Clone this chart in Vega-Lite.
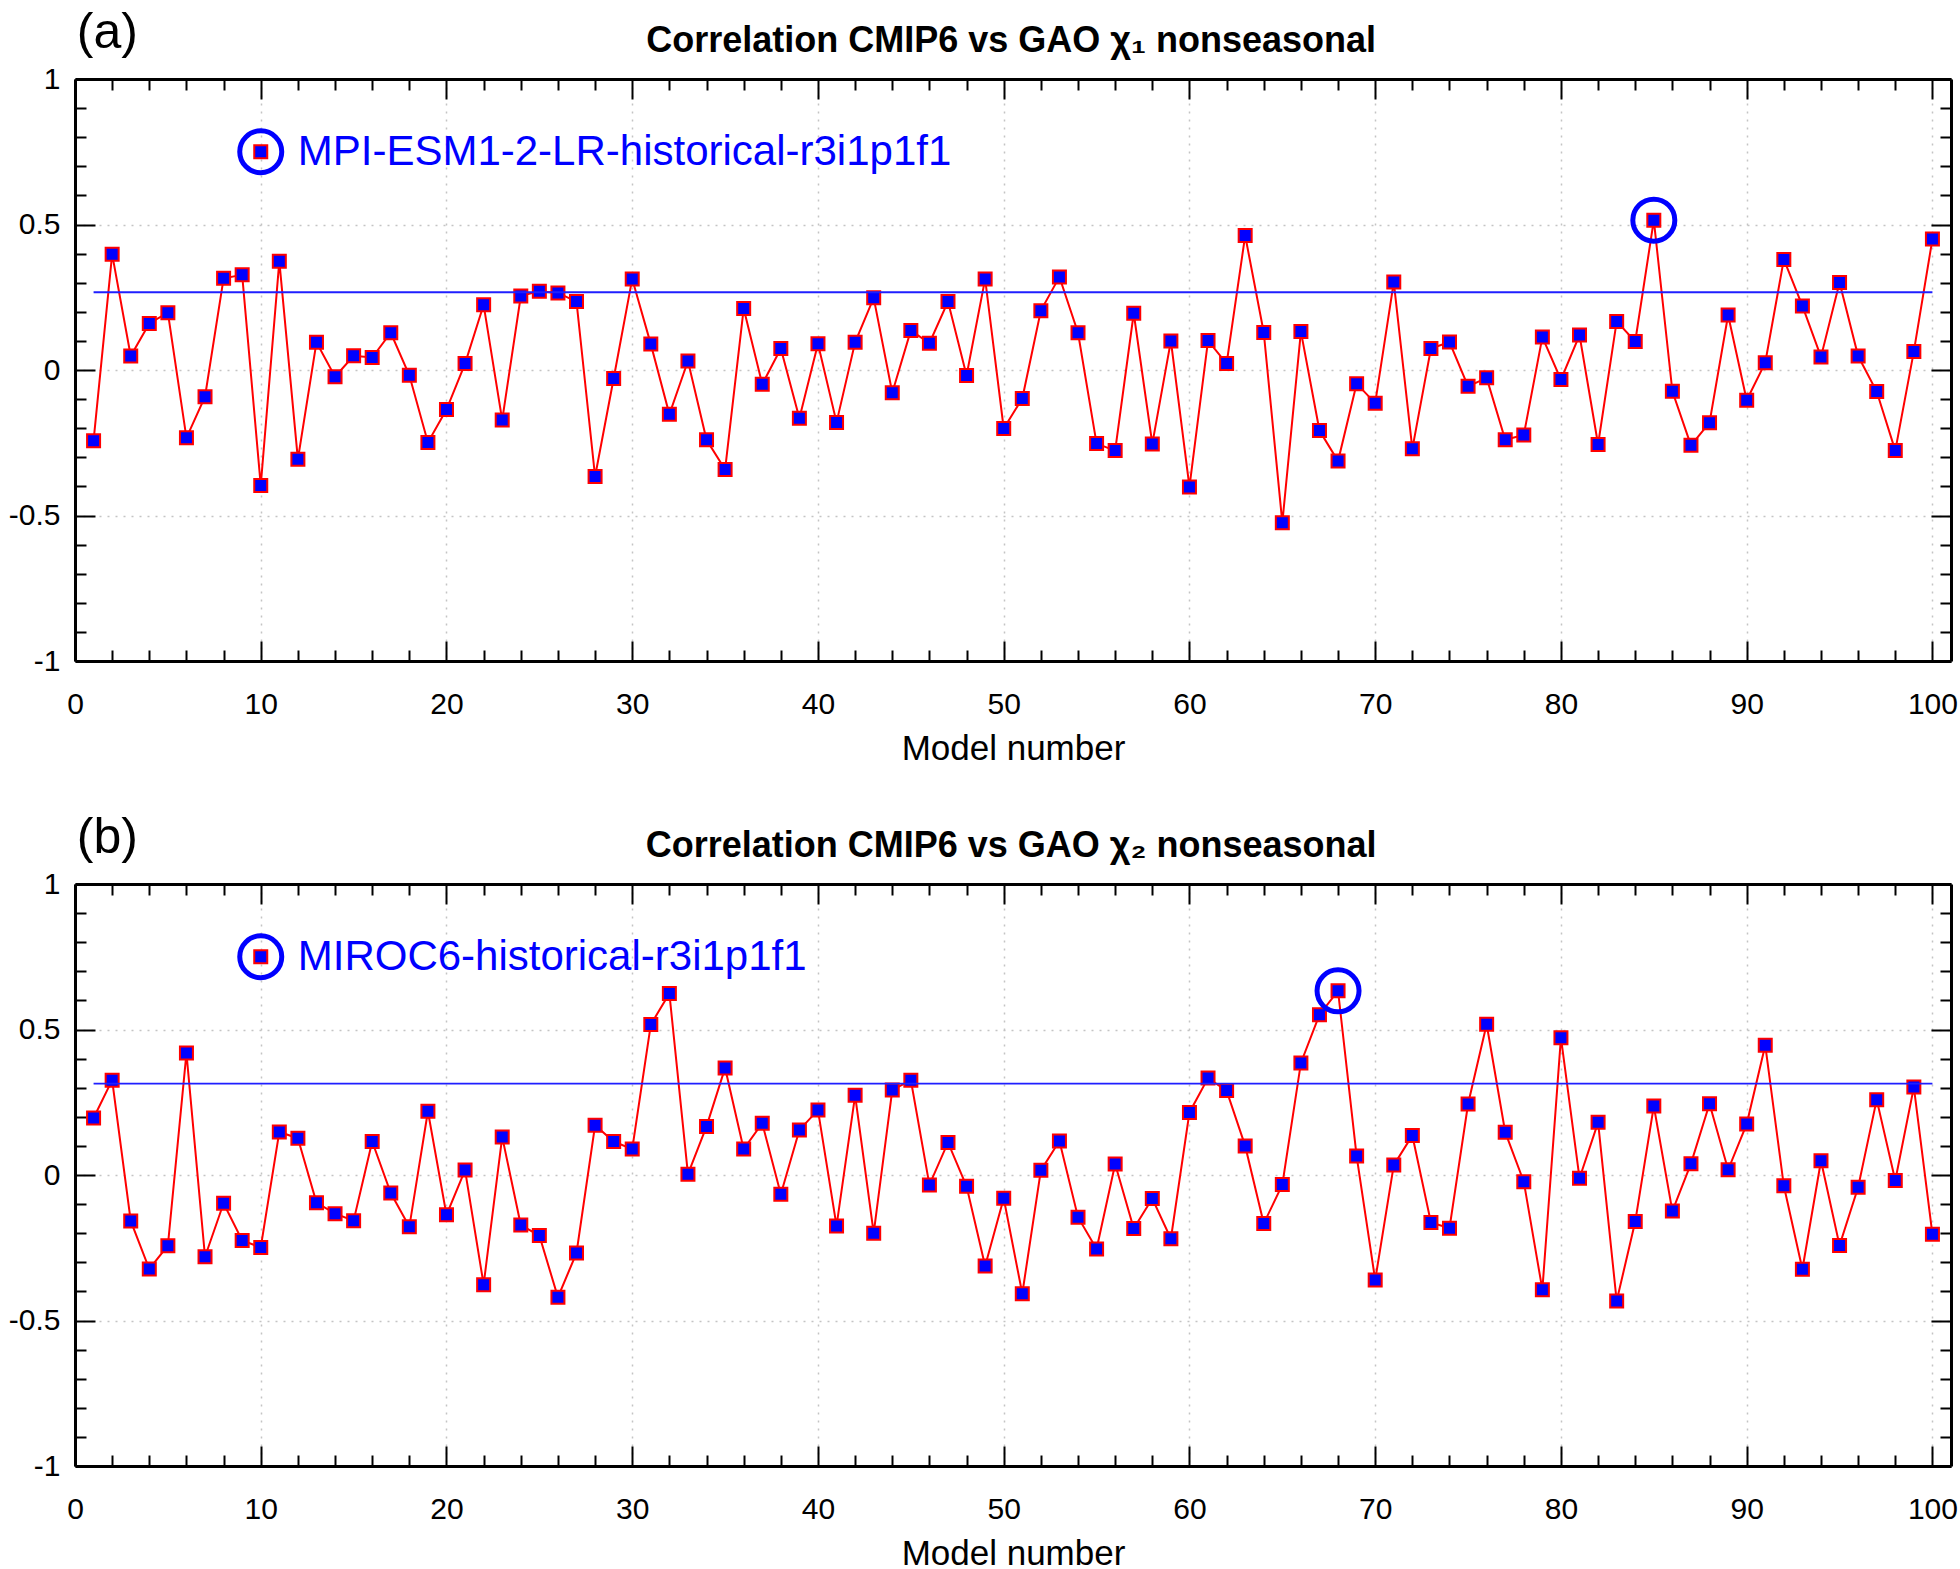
{
  "$schema": "https://vega.github.io/schema/vega-lite/v6.json",
  "background": "white",
  "padding": {"left": 8, "top": 7, "right": 5, "bottom": 0},
  "spacing": 46,
  "datasets": {
    "chi1": [
      {"model":1,"r":-0.243},{"model":2,"r":0.398},{"model":3,"r":0.048},{"model":4,"r":0.160},{"model":5,"r":0.197},
      {"model":6,"r":-0.233},{"model":7,"r":-0.092},{"model":8,"r":0.315},{"model":9,"r":0.327},{"model":10,"r":-0.397},
      {"model":11,"r":0.374},{"model":12,"r":-0.307},{"model":13,"r":0.095},{"model":14,"r":-0.023},{"model":15,"r":0.049},
      {"model":16,"r":0.043},{"model":17,"r":0.128},{"model":18,"r":-0.018},{"model":19,"r":-0.249},{"model":20,"r":-0.136},
      {"model":21,"r":0.022},{"model":22,"r":0.224},{"model":23,"r":-0.172},{"model":24,"r":0.254},{"model":25,"r":0.271},
      {"model":26,"r":0.265},{"model":27,"r":0.235},{"model":28,"r":-0.366},{"model":29,"r":-0.029},{"model":30,"r":0.313},
      {"model":31,"r":0.089},{"model":32,"r":-0.152},{"model":33,"r":0.031},{"model":34,"r":-0.240},{"model":35,"r":-0.342},
      {"model":36,"r":0.211},{"model":37,"r":-0.049},{"model":38,"r":0.074},{"model":39,"r":-0.166},{"model":40,"r":0.090},
      {"model":41,"r":-0.180},{"model":42,"r":0.095},{"model":43,"r":0.248},{"model":44,"r":-0.078},{"model":45,"r":0.136},
      {"model":46,"r":0.092},{"model":47,"r":0.235},{"model":48,"r":-0.019},{"model":49,"r":0.313},{"model":50,"r":-0.201},
      {"model":51,"r":-0.098},{"model":52,"r":0.204},{"model":53,"r":0.320},{"model":54,"r":0.128},{"model":55,"r":-0.253},
      {"model":56,"r":-0.277},{"model":57,"r":0.195},{"model":58,"r":-0.254},{"model":59,"r":0.100},{"model":60,"r":-0.402},
      {"model":61,"r":0.101},{"model":62,"r":0.022},{"model":63,"r":0.462},{"model":64,"r":0.129},{"model":65,"r":-0.525},
      {"model":66,"r":0.132},{"model":67,"r":-0.208},{"model":68,"r":-0.313},{"model":69,"r":-0.047},{"model":70,"r":-0.114},
      {"model":71,"r":0.302},{"model":72,"r":-0.271},{"model":73,"r":0.074},{"model":74,"r":0.096},{"model":75,"r":-0.056},
      {"model":76,"r":-0.027},{"model":77,"r":-0.240},{"model":78,"r":-0.223},{"model":79,"r":0.113},{"model":80,"r":-0.033},
      {"model":81,"r":0.120},{"model":82,"r":-0.256},{"model":83,"r":0.167},{"model":84,"r":0.098},{"model":85,"r":0.515},
      {"model":86,"r":-0.073},{"model":87,"r":-0.259},{"model":88,"r":-0.181},{"model":89,"r":0.189},{"model":90,"r":-0.104},
      {"model":91,"r":0.025},{"model":92,"r":0.380},{"model":93,"r":0.220},{"model":94,"r":0.045},{"model":95,"r":0.301},
      {"model":96,"r":0.048},{"model":97,"r":-0.074},{"model":98,"r":-0.277},{"model":99,"r":0.064},{"model":100,"r":0.450}
    ],
    "chi2": [
      {"model":1,"r":0.196},{"model":2,"r":0.326},{"model":3,"r":-0.158},{"model":4,"r":-0.323},{"model":5,"r":-0.243},
      {"model":6,"r":0.419},{"model":7,"r":-0.281},{"model":8,"r":-0.097},{"model":9,"r":-0.225},{"model":10,"r":-0.249},
      {"model":11,"r":0.148},{"model":12,"r":0.126},{"model":13,"r":-0.095},{"model":14,"r":-0.133},{"model":15,"r":-0.157},
      {"model":16,"r":0.115},{"model":17,"r":-0.062},{"model":18,"r":-0.178},{"model":19,"r":0.219},{"model":20,"r":-0.137},
      {"model":21,"r":0.017},{"model":22,"r":-0.377},{"model":23,"r":0.131},{"model":24,"r":-0.172},{"model":25,"r":-0.208},
      {"model":26,"r":-0.420},{"model":27,"r":-0.268},{"model":28,"r":0.171},{"model":29,"r":0.115},{"model":30,"r":0.089},
      {"model":31,"r":0.517},{"model":32,"r":0.624},{"model":33,"r":0.003},{"model":34,"r":0.167},{"model":35,"r":0.368},
      {"model":36,"r":0.089},{"model":37,"r":0.178},{"model":38,"r":-0.066},{"model":39,"r":0.155},{"model":40,"r":0.223},
      {"model":41,"r":-0.175},{"model":42,"r":0.274},{"model":43,"r":-0.200},{"model":44,"r":0.292},{"model":45,"r":0.326},
      {"model":46,"r":-0.034},{"model":47,"r":0.112},{"model":48,"r":-0.039},{"model":49,"r":-0.313},{"model":50,"r":-0.080},
      {"model":51,"r":-0.408},{"model":52,"r":0.016},{"model":53,"r":0.117},{"model":54,"r":-0.145},{"model":55,"r":-0.254},
      {"model":56,"r":0.038},{"model":57,"r":-0.184},{"model":58,"r":-0.081},{"model":59,"r":-0.219},{"model":60,"r":0.215},
      {"model":61,"r":0.333},{"model":62,"r":0.290},{"model":63,"r":0.100},{"model":64,"r":-0.167},{"model":65,"r":-0.033},
      {"model":66,"r":0.385},{"model":67,"r":0.551},{"model":68,"r":0.633},{"model":69,"r":0.065},{"model":70,"r":-0.361},
      {"model":71,"r":0.034},{"model":72,"r":0.136},{"model":73,"r":-0.163},{"model":74,"r":-0.183},{"model":75,"r":0.244},
      {"model":76,"r":0.518},{"model":77,"r":0.147},{"model":78,"r":-0.023},{"model":79,"r":-0.394},{"model":80,"r":0.472},
      {"model":81,"r":-0.011},{"model":82,"r":0.181},{"model":83,"r":-0.433},{"model":84,"r":-0.160},{"model":85,"r":0.237},
      {"model":86,"r":-0.124},{"model":87,"r":0.039},{"model":88,"r":0.245},{"model":89,"r":0.018},{"model":90,"r":0.175},
      {"model":91,"r":0.446},{"model":92,"r":-0.037},{"model":93,"r":-0.324},{"model":94,"r":0.049},{"model":95,"r":-0.242},
      {"model":96,"r":-0.042},{"model":97,"r":0.259},{"model":98,"r":-0.019},{"model":99,"r":0.302},{"model":100,"r":-0.204}
    ],
    "thr1": [{"start": 1, "end": 100, "level": 0.267}],
    "thr2": [{"start": 1, "end": 100, "level": 0.314}],
    "note1": [{"model": 10, "r": 0.75, "label": "MPI-ESM1-2-LR-historical-r3i1p1f1"}],
    "note2": [{"model": 10, "r": 0.75, "label": "MIROC6-historical-r3i1p1f1"}]
  },
  "vconcat": [
    {
      "width": 1876, "height": 582,
      "resolve": {"axis": {"x": "independent", "y": "independent"}},
      "layer": [
        {
          "data": {"name": "chi1"},
          "mark": {"type": "line", "color": "#ff0000", "strokeWidth": 2},
          "encoding": {
            "x": {"field": "model", "type": "quantitative", "scale": {"domain": [0, 101], "nice": false, "zero": false},
                  "axis": {"orient": "bottom", "values": [0,10,20,30,40,50,60,70,80,90,100], "format": "d", "tickSize": -20, "labelPadding": 48, "grid": true, "domain": true, "title": "Model number", "titlePadding": 12}},
            "y": {"field": "r", "type": "quantitative", "scale": {"domain": [-1, 1], "nice": false, "zero": false},
                  "axis": {"orient": "left", "values": [-1,-0.5,0,0.5,1], "tickSize": -20, "labelPadding": 35, "grid": true, "domain": true, "title": null,
                           "labelExpr": "datum.value < 0 ? '-' + toString(-datum.value) : toString(datum.value)"}}
          }
        },
        {
          "data": {"name": "chi1"},
          "mark": {"type": "point", "shape": "square", "filled": true, "fill": "#0000ff", "stroke": "#ff0000", "strokeWidth": 2, "size": 169, "opacity": 1},
          "encoding": {
            "x": {"field": "model", "type": "quantitative", "scale": {"domain": [0, 101], "nice": false, "zero": false},
                  "axis": {"orient": "bottom", "values": [2,4,6,8,12,14,16,18,22,24,26,28,32,34,36,38,42,44,46,48,52,54,56,58,62,64,66,68,72,74,76,78,82,84,86,88,92,94,96,98], "tickSize": -11, "labels": false, "domain": false, "grid": false, "title": null}},
            "y": {"field": "r", "type": "quantitative", "scale": {"domain": [-1, 1], "nice": false, "zero": false},
                  "axis": {"orient": "left", "values": [-0.9,-0.8,-0.7,-0.6,-0.4,-0.3,-0.2,-0.1,0.1,0.2,0.3,0.4,0.6,0.7,0.8,0.9], "tickSize": -11, "labels": false, "domain": false, "grid": false, "title": null}}
          }
        },
        {
          "data": {"name": "chi1"},
          "transform": [{"joinaggregate": [{"op": "max", "field": "r", "as": "rmax"}]}, {"filter": "datum.r === datum.rmax"}],
          "mark": {"type": "point", "shape": "circle", "filled": false, "stroke": "#0000ff", "strokeWidth": 5, "size": 1764, "opacity": 1},
          "encoding": {
            "x": {"field": "model", "type": "quantitative", "scale": {"domain": [0, 101], "nice": false, "zero": false},
                  "axis": {"orient": "top", "values": [0,10,20,30,40,50,60,70,80,90,100], "tickSize": -20, "labels": false, "domain": true, "grid": false, "title": null}},
            "y": {"field": "r", "type": "quantitative", "scale": {"domain": [-1, 1], "nice": false, "zero": false},
                  "axis": {"orient": "right", "values": [-1,-0.5,0,0.5,1], "tickSize": -20, "labels": false, "domain": true, "grid": false, "title": null}}
          }
        },
        {
          "data": {"name": "thr1"},
          "mark": {"type": "rule", "color": "#1f1fff", "strokeWidth": 2},
          "encoding": {
            "x": {"field": "start", "type": "quantitative", "scale": {"domain": [0, 101], "nice": false, "zero": false},
                  "axis": {"orient": "top", "values": [2,4,6,8,12,14,16,18,22,24,26,28,32,34,36,38,42,44,46,48,52,54,56,58,62,64,66,68,72,74,76,78,82,84,86,88,92,94,96,98], "tickSize": -11, "labels": false, "domain": false, "grid": false, "title": null}},
            "x2": {"field": "end"},
            "y": {"field": "level", "type": "quantitative", "scale": {"domain": [-1, 1], "nice": false, "zero": false},
                  "axis": {"orient": "right", "values": [-0.9,-0.8,-0.7,-0.6,-0.4,-0.3,-0.2,-0.1,0.1,0.2,0.3,0.4,0.6,0.7,0.8,0.9], "tickSize": -11, "labels": false, "domain": false, "grid": false, "title": null}}
          }
        },
        {
          "data": {"name": "note1"},
          "mark": {"type": "point", "shape": "circle", "filled": false, "stroke": "#0000ff", "strokeWidth": 5, "size": 1764, "opacity": 1},
          "encoding": {
            "x": {"field": "model", "type": "quantitative", "scale": {"domain": [0, 101], "nice": false, "zero": false}, "axis": null},
            "y": {"field": "r", "type": "quantitative", "scale": {"domain": [-1, 1], "nice": false, "zero": false}, "axis": null}
          }
        },
        {
          "data": {"name": "note1"},
          "mark": {"type": "point", "shape": "square", "filled": true, "fill": "#0000ff", "stroke": "#ff0000", "strokeWidth": 2, "size": 169, "opacity": 1},
          "encoding": {
            "x": {"field": "model", "type": "quantitative", "scale": {"domain": [0, 101], "nice": false, "zero": false}, "axis": null},
            "y": {"field": "r", "type": "quantitative", "scale": {"domain": [-1, 1], "nice": false, "zero": false}, "axis": null}
          }
        },
        {
          "data": {"name": "note1"},
          "mark": {"type": "text", "align": "left", "baseline": "middle", "dx": 37, "dy": 0, "font": "Liberation Sans", "fontSize": 42, "color": "#0000ff"},
          "encoding": {
            "x": {"field": "model", "type": "quantitative", "scale": {"domain": [0, 101], "nice": false, "zero": false}, "axis": null},
            "y": {"field": "r", "type": "quantitative", "scale": {"domain": [-1, 1], "nice": false, "zero": false}, "axis": null},
            "text": {"field": "label"}
          }
        },
        {
          "data": {"values": [{}]},
          "mark": {"type": "text", "text": "Correlation CMIP6 vs GAO χ₁ nonseasonal", "align": "center", "baseline": "alphabetic", "font": "Liberation Sans", "fontSize": 36, "fontWeight": "bold", "color": "black"},
          "encoding": {
            "x": {"datum": 50.4, "type": "quantitative", "scale": {"domain": [0, 101], "nice": false, "zero": false}, "axis": null},
            "y": {"datum": 1.093, "type": "quantitative", "scale": {"domain": [-1, 1], "nice": false, "zero": false}, "axis": null}
          }
        },
        {
          "data": {"values": [{}]},
          "mark": {"type": "text", "text": "(a)", "align": "left", "baseline": "alphabetic", "font": "Liberation Sans", "fontSize": 50, "color": "black"},
          "encoding": {
            "x": {"datum": 0.1, "type": "quantitative", "scale": {"domain": [0, 101], "nice": false, "zero": false}, "axis": null},
            "y": {"datum": 1.108, "type": "quantitative", "scale": {"domain": [-1, 1], "nice": false, "zero": false}, "axis": null}
          }
        }
      ]
    },
    {
      "width": 1876, "height": 582,
      "resolve": {"axis": {"x": "independent", "y": "independent"}},
      "layer": [
        {
          "data": {"name": "chi2"},
          "mark": {"type": "line", "color": "#ff0000", "strokeWidth": 2},
          "encoding": {
            "x": {"field": "model", "type": "quantitative", "scale": {"domain": [0, 101], "nice": false, "zero": false},
                  "axis": {"orient": "bottom", "values": [0,10,20,30,40,50,60,70,80,90,100], "format": "d", "tickSize": -20, "labelPadding": 48, "grid": true, "domain": true, "title": "Model number", "titlePadding": 12}},
            "y": {"field": "r", "type": "quantitative", "scale": {"domain": [-1, 1], "nice": false, "zero": false},
                  "axis": {"orient": "left", "values": [-1,-0.5,0,0.5,1], "tickSize": -20, "labelPadding": 35, "grid": true, "domain": true, "title": null,
                           "labelExpr": "datum.value < 0 ? '-' + toString(-datum.value) : toString(datum.value)"}}
          }
        },
        {
          "data": {"name": "chi2"},
          "mark": {"type": "point", "shape": "square", "filled": true, "fill": "#0000ff", "stroke": "#ff0000", "strokeWidth": 2, "size": 169, "opacity": 1},
          "encoding": {
            "x": {"field": "model", "type": "quantitative", "scale": {"domain": [0, 101], "nice": false, "zero": false},
                  "axis": {"orient": "bottom", "values": [2,4,6,8,12,14,16,18,22,24,26,28,32,34,36,38,42,44,46,48,52,54,56,58,62,64,66,68,72,74,76,78,82,84,86,88,92,94,96,98], "tickSize": -11, "labels": false, "domain": false, "grid": false, "title": null}},
            "y": {"field": "r", "type": "quantitative", "scale": {"domain": [-1, 1], "nice": false, "zero": false},
                  "axis": {"orient": "left", "values": [-0.9,-0.8,-0.7,-0.6,-0.4,-0.3,-0.2,-0.1,0.1,0.2,0.3,0.4,0.6,0.7,0.8,0.9], "tickSize": -11, "labels": false, "domain": false, "grid": false, "title": null}}
          }
        },
        {
          "data": {"name": "chi2"},
          "transform": [{"joinaggregate": [{"op": "max", "field": "r", "as": "rmax"}]}, {"filter": "datum.r === datum.rmax"}],
          "mark": {"type": "point", "shape": "circle", "filled": false, "stroke": "#0000ff", "strokeWidth": 5, "size": 1764, "opacity": 1},
          "encoding": {
            "x": {"field": "model", "type": "quantitative", "scale": {"domain": [0, 101], "nice": false, "zero": false},
                  "axis": {"orient": "top", "values": [0,10,20,30,40,50,60,70,80,90,100], "tickSize": -20, "labels": false, "domain": true, "grid": false, "title": null}},
            "y": {"field": "r", "type": "quantitative", "scale": {"domain": [-1, 1], "nice": false, "zero": false},
                  "axis": {"orient": "right", "values": [-1,-0.5,0,0.5,1], "tickSize": -20, "labels": false, "domain": true, "grid": false, "title": null}}
          }
        },
        {
          "data": {"name": "thr2"},
          "mark": {"type": "rule", "color": "#1f1fff", "strokeWidth": 1.6},
          "encoding": {
            "x": {"field": "start", "type": "quantitative", "scale": {"domain": [0, 101], "nice": false, "zero": false},
                  "axis": {"orient": "top", "values": [2,4,6,8,12,14,16,18,22,24,26,28,32,34,36,38,42,44,46,48,52,54,56,58,62,64,66,68,72,74,76,78,82,84,86,88,92,94,96,98], "tickSize": -11, "labels": false, "domain": false, "grid": false, "title": null}},
            "x2": {"field": "end"},
            "y": {"field": "level", "type": "quantitative", "scale": {"domain": [-1, 1], "nice": false, "zero": false},
                  "axis": {"orient": "right", "values": [-0.9,-0.8,-0.7,-0.6,-0.4,-0.3,-0.2,-0.1,0.1,0.2,0.3,0.4,0.6,0.7,0.8,0.9], "tickSize": -11, "labels": false, "domain": false, "grid": false, "title": null}}
          }
        },
        {
          "data": {"name": "note2"},
          "mark": {"type": "point", "shape": "circle", "filled": false, "stroke": "#0000ff", "strokeWidth": 5, "size": 1764, "opacity": 1},
          "encoding": {
            "x": {"field": "model", "type": "quantitative", "scale": {"domain": [0, 101], "nice": false, "zero": false}, "axis": null},
            "y": {"field": "r", "type": "quantitative", "scale": {"domain": [-1, 1], "nice": false, "zero": false}, "axis": null}
          }
        },
        {
          "data": {"name": "note2"},
          "mark": {"type": "point", "shape": "square", "filled": true, "fill": "#0000ff", "stroke": "#ff0000", "strokeWidth": 2, "size": 169, "opacity": 1},
          "encoding": {
            "x": {"field": "model", "type": "quantitative", "scale": {"domain": [0, 101], "nice": false, "zero": false}, "axis": null},
            "y": {"field": "r", "type": "quantitative", "scale": {"domain": [-1, 1], "nice": false, "zero": false}, "axis": null}
          }
        },
        {
          "data": {"name": "note2"},
          "mark": {"type": "text", "align": "left", "baseline": "middle", "dx": 37, "dy": 0, "font": "Liberation Sans", "fontSize": 42, "color": "#0000ff"},
          "encoding": {
            "x": {"field": "model", "type": "quantitative", "scale": {"domain": [0, 101], "nice": false, "zero": false}, "axis": null},
            "y": {"field": "r", "type": "quantitative", "scale": {"domain": [-1, 1], "nice": false, "zero": false}, "axis": null},
            "text": {"field": "label"}
          }
        },
        {
          "data": {"values": [{}]},
          "mark": {"type": "text", "text": "Correlation CMIP6 vs GAO χ₂ nonseasonal", "align": "center", "baseline": "alphabetic", "font": "Liberation Sans", "fontSize": 36, "fontWeight": "bold", "color": "black"},
          "encoding": {
            "x": {"datum": 50.4, "type": "quantitative", "scale": {"domain": [0, 101], "nice": false, "zero": false}, "axis": null},
            "y": {"datum": 1.093, "type": "quantitative", "scale": {"domain": [-1, 1], "nice": false, "zero": false}, "axis": null}
          }
        },
        {
          "data": {"values": [{}]},
          "mark": {"type": "text", "text": "(b)", "align": "left", "baseline": "alphabetic", "font": "Liberation Sans", "fontSize": 50, "color": "black"},
          "encoding": {
            "x": {"datum": 0.1, "type": "quantitative", "scale": {"domain": [0, 101], "nice": false, "zero": false}, "axis": null},
            "y": {"datum": 1.108, "type": "quantitative", "scale": {"domain": [-1, 1], "nice": false, "zero": false}, "axis": null}
          }
        }
      ]
    }
  ],
  "config": {
    "view": {"stroke": null},
    "axis": {
      "grid": false,
      "tickColor": "black", "tickWidth": 2,
      "domainColor": "black", "domainWidth": 3,
      "labelFont": "Liberation Sans", "labelFontSize": 30, "labelColor": "black",
      "labelFlush": false, "labelOverlap": false,
      "titleFont": "Liberation Sans", "titleFontSize": 35, "titleFontWeight": "normal", "titleColor": "black",
      "gridColor": "#c4c4c4", "gridDash": [2, 6], "gridWidth": 1.5
    }
  }
}
